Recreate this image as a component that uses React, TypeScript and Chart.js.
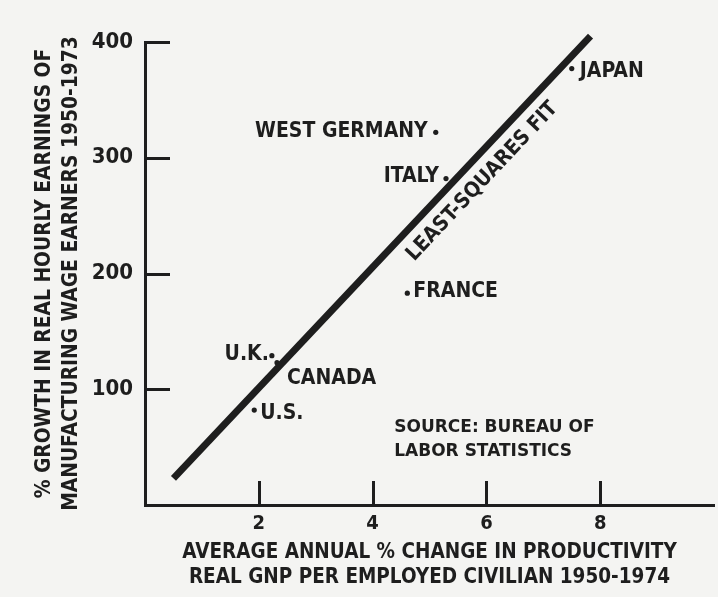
import React, { useEffect, useRef } from 'react';
import { Chart, registerables } from 'chart.js';

Chart.register(...registerables);

// ---- data ----
const countries = ['JAPAN', 'WEST GERMANY', 'ITALY', 'FRANCE', 'U.K.', 'CANADA', 'U.S.'];
const productivityChange = [7.5, 5.11, 5.29, 4.61, 2.23, 2.32, 1.92];
const wageGrowth = [377, 322, 282, 183, 129, 123, 82];
const fitProductivity = [0.5, 7.83];
const fitWageGrowth = [23, 405];
const xTickValues = [2, 4, 6, 8];
const yTickValues = [100, 200, 300, 400];
const xTitleLines = ['AVERAGE ANNUAL % CHANGE IN PRODUCTIVITY', 'REAL GNP PER EMPLOYED CIVILIAN 1950-1974'];
const yTitleLines = ['% GROWTH IN REAL HOURLY EARNINGS OF', 'MANUFACTURING WAGE EARNERS 1950-1973'];
const fitLabel = 'LEAST-SQUARES FIT';
const sourceLines = ['SOURCE: BUREAU OF', 'LABOR STATISTICS'];

// ---- styling ----
const INK = '#1e1e1e';
const PAPER = '#f4f4f2';
const NARROW = "'Liberation Sans Narrow', 'Arial Narrow', 'DejaVu Sans Condensed', 'Roboto Condensed', Roboto, sans-serif";
const SOURCE_FONT = "'DejaVu Sans', 'Open Sans', sans-serif";

const labelPlacement: Record<string, { align: CanvasTextAlign; dx: number; dy: number }> = {
  'JAPAN': { align: 'left', dx: 8, dy: 3 },
  'WEST GERMANY': { align: 'right', dx: -8, dy: -1 },
  'ITALY': { align: 'right', dx: -7, dy: -2 },
  'FRANCE': { align: 'left', dx: 6, dy: -2 },
  'U.K.': { align: 'right', dx: -3, dy: -1 },
  'CANADA': { align: 'left', dx: 10, dy: 16 },
  'U.S.': { align: 'left', dx: 6, dy: 3 },
};
const fitLabelAt = 5.66; // productivity value along the fit line where label centres
const fitLabelOffset = 21;
const sourceAnchor = { x: 4.38, y: 67 };
const sourceLineGap = 24;

const decorPlugin = {
  id: 'decor',
  beforeDraw(chart: any) {
    const ctx = chart.ctx;
    ctx.save();
    ctx.fillStyle = PAPER;
    ctx.fillRect(0, 0, chart.width, chart.height);
    ctx.restore();
  },
  afterDraw(chart: any) {
    const ctx: CanvasRenderingContext2D = chart.ctx;
    const xs = chart.scales.x;
    const ys = chart.scales.y;
    ctx.save();
    // inward tick marks
    ctx.strokeStyle = INK;
    ctx.lineWidth = 3;
    ctx.lineCap = 'butt';
    xs.ticks.forEach((t: any) => {
      const px = Math.round(xs.getPixelForValue(t.value)) + 0.5;
      ctx.beginPath();
      ctx.moveTo(px, ys.bottom);
      ctx.lineTo(px, ys.bottom - 24);
      ctx.stroke();
    });
    ys.ticks.forEach((t: any) => {
      const py = Math.round(ys.getPixelForValue(t.value)) + 0.5;
      ctx.beginPath();
      ctx.moveTo(xs.left, py);
      ctx.lineTo(xs.left + 25, py);
      ctx.stroke();
    });

    // point labels
    ctx.fillStyle = INK;
    ctx.font = `bold 21px ${NARROW}`;
    ctx.textBaseline = 'middle';
    countries.forEach((name, i) => {
      const p = labelPlacement[name];
      const px = xs.getPixelForValue(productivityChange[i]);
      const py = ys.getPixelForValue(wageGrowth[i]);
      ctx.textAlign = p.align;
      ctx.fillText(name, px + p.dx, py + p.dy);
    });

    // fit-line label, rotated along the line
    const x1 = xs.getPixelForValue(fitProductivity[0]);
    const y1 = ys.getPixelForValue(fitWageGrowth[0]);
    const x2 = xs.getPixelForValue(fitProductivity[1]);
    const y2 = ys.getPixelForValue(fitWageGrowth[1]);
    const angle = Math.atan2(y2 - y1, x2 - x1);
    const t = (fitLabelAt - fitProductivity[0]) / (fitProductivity[1] - fitProductivity[0]);
    ctx.save();
    ctx.translate(x1 + (x2 - x1) * t, y1 + (y2 - y1) * t);
    ctx.rotate(angle);
    ctx.textAlign = 'center';
    ctx.font = `bold 21px ${NARROW}`;
    ctx.fillText(fitLabel, 0, fitLabelOffset);
    ctx.restore();

    // source note
    ctx.font = `bold 17px ${SOURCE_FONT}`;
    ctx.textAlign = 'left';
    const sx = xs.getPixelForValue(sourceAnchor.x);
    const sy = ys.getPixelForValue(sourceAnchor.y);
    sourceLines.forEach((line, i) => ctx.fillText(line, sx, sy + i * sourceLineGap));
    ctx.restore();
  },
};

export default function App() {
  const canvasRef = useRef<HTMLCanvasElement | null>(null);

  useEffect(() => {
    if (!canvasRef.current) return;
    const chart = new Chart(canvasRef.current, {
      type: 'scatter',
      data: {
        datasets: [
          {
            type: 'line',
            label: 'fit',
            data: fitProductivity.map((v, i) => ({ x: v, y: fitWageGrowth[i] })),
            borderColor: INK,
            borderWidth: 7,
            borderCapStyle: 'butt',
            pointRadius: 0,
            fill: false,
            clip: false as any,
          } as any,
          {
            type: 'scatter',
            label: 'countries',
            data: productivityChange.map((v, i) => ({ x: v, y: wageGrowth[i] })),
            pointRadius: 2.6,
            pointBackgroundColor: INK,
            pointBorderWidth: 0,
            clip: false as any,
          } as any,
        ],
      },
      options: {
        animation: false,
        responsive: false,
        devicePixelRatio: 1,
        layout: { padding: { top: 42, right: 0, bottom: 0, left: 0 } },
        plugins: { legend: { display: false }, tooltip: { enabled: false } },
        scales: {
          x: {
            type: 'linear',
            min: 0,
            max: 10,
            afterBuildTicks: (s: any) => { s.ticks = xTickValues.map((v) => ({ value: v })); },
            afterFit: (s: any) => { s.height = 92; s.paddingRight = 0; s.paddingLeft = 0; },
            grid: { display: true, drawOnChartArea: false, drawTicks: false },
            border: { display: true, color: INK, width: 3 },
            ticks: {
              color: INK,
              padding: 7,
              font: { family: NARROW, size: 20, weight: 'bold' },
              maxRotation: 0,
            },
            title: {
              display: true,
              text: xTitleLines,
              color: INK,
              font: { family: NARROW, size: 20.5, weight: 'bold', lineHeight: '25px' },
              padding: { top: 0, bottom: 6.5 },
            },
          },
          y: {
            type: 'linear',
            min: 0,
            max: 400,
            afterBuildTicks: (s: any) => { s.ticks = yTickValues.map((v) => ({ value: v })); },
            afterFit: (s: any) => { s.width = 145; },
            grid: { display: true, drawOnChartArea: false, drawTicks: false },
            border: { display: true, color: INK, width: 3 },
            ticks: {
              color: INK,
              padding: 12,
              font: { family: NARROW, size: 22, weight: 'bold' },
            },
            title: {
              display: true,
              text: yTitleLines,
              color: INK,
              font: { family: NARROW, size: 20.8, weight: 'bold', lineHeight: '27px' },
              padding: { top: 31.5, bottom: 0 },
            },
          },
        },
      } as any,
      plugins: [decorPlugin],
    });
    return () => chart.destroy();
  }, []);

  return (
    <div style={{ position: 'absolute', left: 0, top: 0, width: 718, height: 597, background: PAPER }}>
      <canvas ref={canvasRef} width={718} height={597} style={{ display: 'block' }} />
    </div>
  );
}
